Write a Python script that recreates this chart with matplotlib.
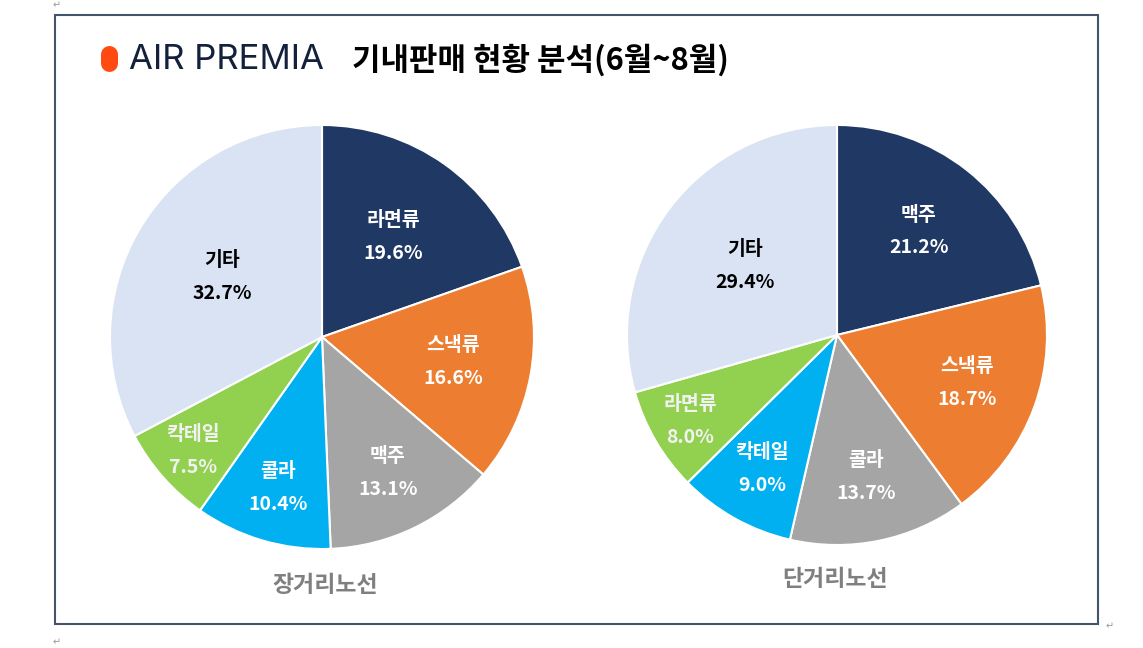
import numpy as np
import matplotlib
matplotlib.use("Agg")
import matplotlib.pyplot as plt
from matplotlib.patches import Rectangle
from matplotlib.lines import Line2D

plt.rcParams['font.family'] = ['Noto Sans CJK KR', 'DejaVu Sans']

# ---- data ----
long_labels = ["라면류", "스낵류", "맥주", "콜라", "칵테일", "기타"]
long_values = [19.6, 16.6, 13.1, 10.4, 7.5, 32.7]
short_labels = ["맥주", "스낵류", "콜라", "칵테일", "라면류", "기타"]
short_values = [21.2, 18.7, 13.7, 9.0, 8.0, 29.4]
titles = ["장거리노선", "단거리노선"]
main_title = "기내판매 현황 분석(6월~8월)"

# ---- style ----
slice_colors = ["#203864", "#ED7D31", "#A5A5A5", "#00B0F0", "#92D050", "#DAE3F3"]
text_colors = ["white", "white", "white", "white", "#F2F2F2", "black"]
long_label_r = [0.58, 0.63, 0.71, 0.74, 0.81, 0.55]
short_label_r = [0.63, 0.66, 0.69, 0.73, 0.81, 0.55]

W, H = 1143, 648
fig = plt.figure(figsize=(W / 100, H / 100), dpi=100)
fig.patch.set_facecolor("white")

def fig_rect(cx, cy, r):
    return [(cx - r) / W, (H - cy - r) / H, 2 * r / W, 2 * r / H]

def draw_pie(rect, labels, values, radii):
    ax = fig.add_axes(rect)
    wedges, _ = ax.pie(values, colors=slice_colors, startangle=90, counterclock=False,
                       radius=1.0, wedgeprops=dict(edgecolor="white", linewidth=1.5))
    ax.set_xlim(-1, 1)
    ax.set_ylim(-1, 1)
    ax.set_aspect("auto")
    ax.axis("off")
    for w, lab, val, rr, tc in zip(wedges, labels, values, radii, text_colors):
        ang = np.deg2rad((w.theta1 + w.theta2) / 2)
        x, y = rr * np.cos(ang), rr * np.sin(ang)
        ax.annotate(lab, (x, y), xytext=(0, 11.5), textcoords="offset points",
                    ha="center", va="center", fontsize=14, fontweight="bold", color=tc)
        ax.annotate(f"{val:.1f}%", (x, y), xytext=(0, -12), textcoords="offset points",
                    ha="center", va="center", fontsize=14, fontweight="bold", color=tc)
    return ax

draw_pie(fig_rect(322, 337, 212), long_labels, long_values, long_label_r)
draw_pie(fig_rect(837, 335, 210), short_labels, short_values, short_label_r)

# subtitles
fig.text(325 / W, 1 - 586 / H, titles[0], ha="center", va="center", fontsize=16.5,
         fontweight="bold", color="#7F7F7F")
fig.text(835 / W, 1 - 579 / H, titles[1], ha="center", va="center", fontsize=16.5,
         fontweight="bold", color="#7F7F7F")

# frame
fig.add_artist(Rectangle((55 / W, 1 - 624 / H), (1098 - 55) / W, (624 - 15) / H,
                         transform=fig.transFigure, fill=False, edgecolor="#44546A",
                         linewidth=1.5))

# logo pill
fig.add_artist(Line2D([108.5 / W, 108.5 / W], [1 - 54 / H, 1 - 63 / H],
                      transform=fig.transFigure, color="#FF4B12",
                      linewidth=17 * 0.72, solid_capstyle="round"))
fig.text(129 / W, 1 - 60 / H, "AIR PREMIA", ha="left", va="center", fontsize=25,
         family=["Inter", "DejaVu Sans"], fontweight="normal", color="#14213D")

# title
fig.text(352 / W, 1 - 60 / H, main_title, ha="left", va="center", fontsize=22.3,
         fontweight="bold", color="black")

# paragraph marks
for (px, py) in [(57, 5), (1110, 626), (57, 642)]:
    fig.text(px / W, 1 - py / H, "↵", ha="center", va="center", fontsize=7,
             color="#9A9A9A", family=["DejaVu Sans"])

fig.savefig("out.png", dpi=100)
